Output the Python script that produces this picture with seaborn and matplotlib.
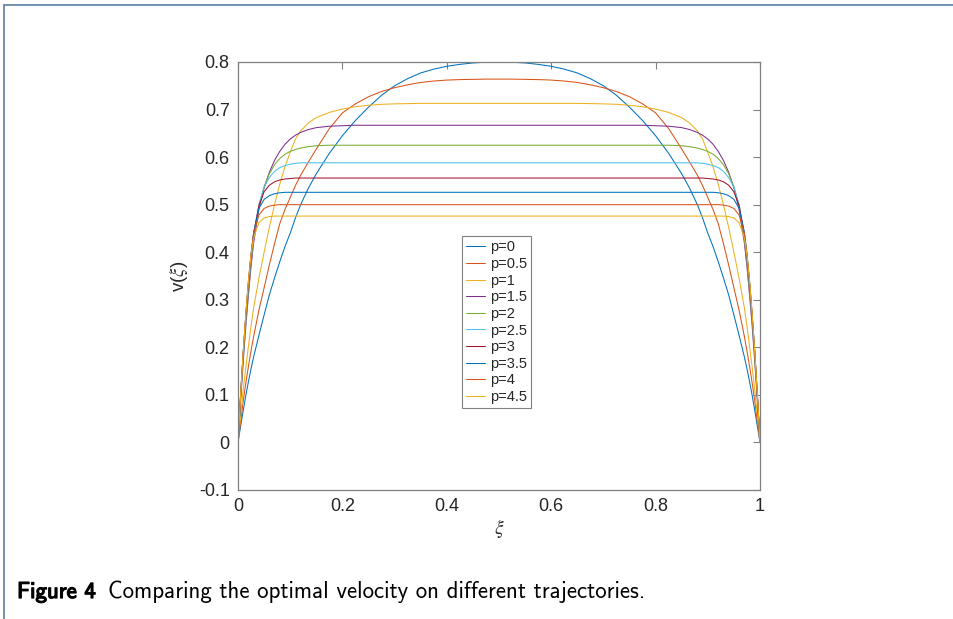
import matplotlib
matplotlib.use("Agg")
import matplotlib.pyplot as plt
import matplotlib.patheffects as pe
from matplotlib.lines import Line2D
import seaborn as sns

# ---------------- data (the curves are symmetric about xi=0.5) ----------------
xi = [0, .005, .01, .015, .02, .025, .03, .04, .05, .06, .07, .08, .09, .1, .11, .12, .135, .15, .175, .2,
      .225, .25, .275, .3, .325, .35, .375, .4, .425, .45, .475, .5,
      .525, .55, .575, .6, .625, .65, .675, .7, .725, .75, .775, .8, .825, .85, .865, .88, .89, .9,
      .91, .92, .93, .94, .95, .96, .97, .975, .98, .985, .99, .995, 1]

# values on the left half (xi = 0 ... 0.5); right half is the mirror image
p0_half = [0, .034, .067, .099, .128, .155, .18, .225, .268, .31, .346, .38, .412, .44, .472, .5, .535, .565,
           .608, .645, .677, .705, .73, .75, .765, .777, .785, .791, .795, .798, .7995, .8]
p05_half = [0, .043, .087, .125, .16, .193, .223, .278, .325, .373, .418, .46, .49, .515, .54, .562, .59, .617,
            .66, .693, .712, .727, .738, .746, .752, .757, .76, .762, .763, .7635, .764, .764]
p1_half = [0, .057, .11, .158, .202, .245, .283, .345, .4, .452, .5, .543, .58, .61, .638, .655, .672, .683,
           .694, .701, .706, .709, .711, .712, .7125, .713, .713, .713, .713, .713, .713, .713]
p15_half = [0, .088, .17, .245, .31, .37, .42, .49, .535, .568, .593, .612, .627, .638, .646, .652, .658, .662,
            .665, .666, .667, .667, .667, .667, .667, .667, .667, .667, .667, .667, .667, .667]
p2_half = [0, .093, .178, .255, .32, .38, .43, .497, .538, .565, .584, .597, .606, .612, .616, .619, .622, .624,
           .625, .625, .625, .625, .625, .625, .625, .625, .625, .625, .625, .625, .625, .625]
p25_half = [0, .096, .183, .26, .327, .387, .435, .5, .537, .557, .57, .578, .582, .585, .587, .588, .588, .588,
            .588, .588, .588, .588, .588, .588, .588, .588, .588, .588, .588, .588, .588, .588]
p3_half = [0, .098, .187, .265, .333, .392, .44, .498, .527, .541, .548, .552, .554, .555, .556, .556, .556, .556,
           .556, .556, .556, .556, .556, .556, .556, .556, .556, .556, .556, .556, .556, .556]
p35_half = [0, .1, .19, .268, .337, .395, .442, .492, .511, .519, .523, .525, .526, .526, .526, .526, .526, .526,
            .526, .526, .526, .526, .526, .526, .526, .526, .526, .526, .526, .526, .526, .526]
p4_half = [0, .1, .19, .27, .34, .397, .44, .478, .492, .497, .499, .5, .5, .5, .5, .5, .5, .5,
           .5, .5, .5, .5, .5, .5, .5, .5, .5, .5, .5, .5, .5, .5]
p45_half = [0, .1, .19, .27, .34, .395, .43, .462, .472, .475, .476, .476, .476, .476, .476, .476, .476, .476,
            .476, .476, .476, .476, .476, .476, .476, .476, .476, .476, .476, .476, .476, .476]

series_labels = ["p=0", "p=0.5", "p=1", "p=1.5", "p=2", "p=2.5", "p=3", "p=3.5", "p=4", "p=4.5"]
series_halves = [p0_half, p05_half, p1_half, p15_half, p2_half, p25_half, p3_half, p35_half, p4_half, p45_half]
colors = ["#0072BD", "#D95319", "#EDB120", "#7E2F8E", "#77AC30", "#4DBEEE", "#A2142F",
          "#0072BD", "#D95319", "#EDB120"]

x_ticks = [0, 0.2, 0.4, 0.6, 0.8, 1]
x_tick_labels = ["0", "0.2", "0.4", "0.6", "0.8", "1"]
y_ticks = [-0.1, 0, 0.1, 0.2, 0.3, 0.4, 0.5, 0.6, 0.7, 0.8]
y_tick_labels = ["-0.1", "0", "0.1", "0.2", "0.3", "0.4", "0.5", "0.6", "0.7", "0.8"]

# ---------------- style ----------------
sns.set_theme(style="white")
plt.rcParams['font.family'] = ['Liberation Sans', 'DejaVu Sans']
plt.rcParams['mathtext.fontset'] = 'stix'

W, H = 954, 619
fig = plt.figure(figsize=(W / 100, H / 100), dpi=100)
ax = fig.add_axes([238 / W, 1 - 490 / H, 522 / W, 428 / H])

for lab, half, col in zip(series_labels, series_halves, colors):
    vals = half + half[-2::-1]
    sns.lineplot(x=xi, y=vals, color=col, label=lab, linewidth=0.75, ax=ax,
                 estimator=None, sort=False)

ax.set_xlim(0, 1)
ax.set_ylim(-0.1, 0.8)
ax.set_xticks(x_ticks)
ax.set_xticklabels(x_tick_labels)
ax.set_yticks(y_ticks)
ax.set_yticklabels(y_tick_labels)

axis_col = "#808080"
text_col = "#262626"
for s in ax.spines.values():
    s.set_visible(True)
    s.set_color(axis_col)
    s.set_linewidth(0.9)
ax.tick_params(direction="in", length=5, width=0.8, color=axis_col,
               top=True, right=True, labelsize=13, labelcolor=text_col, pad=6)

ax.set_ylabel(r"v($\xi$)", fontsize=13.5, color=text_col, labelpad=6)
ax.set_xlabel(r"$\xi$", fontsize=14, color=text_col, labelpad=1)

leg = ax.legend(loc="upper left", bbox_to_anchor=(462 / W, 1 - 236 / H),
                bbox_transform=fig.transFigure, frameon=True, fancybox=False,
                edgecolor=axis_col, fontsize=10.5, labelspacing=0.18,
                handlelength=1.3, handletextpad=0.3, borderpad=0.3,
                borderaxespad=0, framealpha=1)
leg.get_frame().set_linewidth(0.8)
for t in leg.get_texts():
    t.set_color(text_col)

# caption
fig.text(17 / W, 1 - 592 / H, "Figure 4", fontfamily="cmss10", fontsize=16.5,
         va="center", ha="left", color="black",
         path_effects=[pe.withStroke(linewidth=0.9, foreground="black")])
fig.text(108 / W, 1 - 592 / H, "Comparing the optimal velocity on different trajectories.",
         fontfamily="cmss10", fontsize=16.5, va="center", ha="left", color="black")

# page frame lines
frame_col = "#5b7ea6"
fig.add_artist(Line2D([4 / W, 4 / W], [0, 1 - 5 / H], transform=fig.transFigure,
                      color=frame_col, linewidth=1.2))
fig.add_artist(Line2D([4 / W, 1], [1 - 5 / H, 1 - 5 / H], transform=fig.transFigure,
                      color=frame_col, linewidth=1.2))

fig.savefig("out.png", dpi=100)
